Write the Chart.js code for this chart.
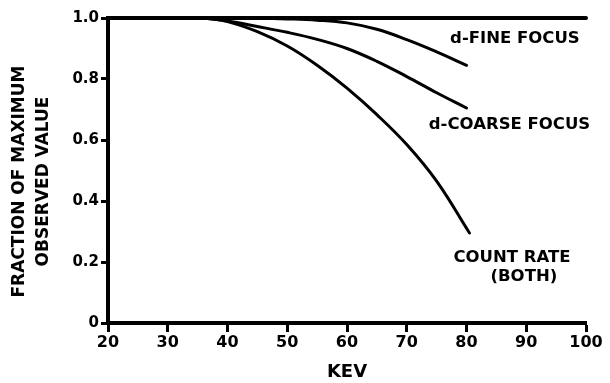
<!DOCTYPE html>
<html><head><meta charset="utf-8">
<script src="https://cdn.jsdelivr.net/npm/chart.js@4.4.1/dist/chart.umd.min.js"></script>
<style>html,body{margin:0;padding:0;background:#fff}#wrap{width:610px;height:383px}</style>
</head><body><div id="wrap"><canvas id="c"></canvas></div>
<script>
// keV values and fraction-of-maximum values
const refKev = [20, 100];
const refVal = [1.0, 1.0];
const fineKev = [36, 45, 50, 55, 60, 65, 70, 75, 80];
const fineVal = [1.0, 0.999, 0.997, 0.993, 0.984, 0.963, 0.929, 0.889, 0.845];
const coarseKev = [36, 40, 45, 50, 55, 60, 65, 70, 75, 80];
const coarseVal = [1.0, 0.99, 0.972, 0.953, 0.93, 0.9, 0.858, 0.808, 0.755, 0.705];
const countKev = [36, 40, 45, 50, 55, 60, 65, 70, 75, 80.5];
const countVal = [1.0, 0.988, 0.955, 0.908, 0.845, 0.77, 0.683, 0.585, 0.465, 0.295];
const xTicks = [20, 30, 40, 50, 60, 70, 80, 90, 100];
const yTicks = [0, 0.2, 0.4, 0.6, 0.8, 1.0];
const yTitle = ['FRACTION OF MAXIMUM', 'OBSERVED VALUE'];
const xTitle = 'KEV';
const labels = [
  {text: 'd-FINE FOCUS', kev: 88.1, val: 0.931},
  {text: 'd-COARSE FOCUS', kev: 87.2, val: 0.651},
  {text: 'COUNT RATE', kev: 87.6, val: 0.214},
  {text: '(BOTH)', kev: 89.6, val: 0.153}
];

const pts = (xs, ys) => xs.map((x, i) => ({x, y: ys[i]}));
const FONT = '"DejaVu Sans", sans-serif';

const labelPlugin = {
  id: 'curveLabels',
  afterDatasetsDraw(chart) {
    const {ctx, scales, chartArea} = chart;
    ctx.save();
    ctx.fillStyle = '#000';
    ctx.font = 'bold 16.5px ' + FONT;
    ctx.textAlign = 'center';
    ctx.textBaseline = 'middle';
    labels.forEach(l => {
      ctx.fillText(l.text, scales.x.getPixelForValue(l.kev), scales.y.getPixelForValue(l.val));
    });
    // y-axis title, two rotated lines
    ctx.font = 'bold 17px ' + FONT;
    const cy = (chartArea.top + chartArea.bottom) / 2 + 11;
    const xs = [19.5, 44];
    yTitle.forEach((t, i) => {
      ctx.save();
      ctx.translate(xs[i], cy);
      ctx.rotate(-Math.PI / 2);
      ctx.fillText(t, 0, 0);
      ctx.restore();
    });
    ctx.restore();
  }
};

const ds = (data, w) => ({
  data, borderColor: '#000', borderWidth: w, pointRadius: 0,
  tension: 0.4, fill: false, clip: 10, borderCapStyle: 'round'
});

new Chart(document.getElementById('c'), {
  type: 'line',
  data: {
    datasets: [
      ds(pts(refKev, refVal), 4),
      ds(pts(fineKev, fineVal), 3),
      ds(pts(coarseKev, coarseVal), 3),
      ds(pts(countKev, countVal), 3)
    ]
  },
  options: {
    responsive: true, maintainAspectRatio: false, animation: false,
    layout: {padding: {top: 18, right: 24, left: 0, bottom: 0}},
    plugins: {legend: {display: false}, tooltip: {enabled: false}},
    scales: {
      x: {
        type: 'linear', min: 20, max: 100,
        afterFit: s => { s.height = 60; },
        afterBuildTicks: s => { s.ticks = xTicks.map(v => ({value: v})); },
        border: {color: '#000', width: 4},
        grid: {drawOnChartArea: false, drawTicks: true, tickLength: 9, tickWidth: 3, tickColor: '#000'},
        ticks: {color: '#000', padding: 1, font: {family: FONT, size: 16, weight: 'bold'}},
        title: {display: true, text: xTitle, color: '#000', padding: {top: 3, bottom: 0}, font: {family: FONT, size: 18, weight: 'bold'}}
      },
      y: {
        min: 0, max: 1,
        afterFit: s => { s.width = 108; },
        afterBuildTicks: s => { s.ticks = yTicks.map(v => ({value: v})); },
        border: {color: '#000', width: 4},
        grid: {drawOnChartArea: false, drawTicks: true, tickLength: 7, tickWidth: 3, tickColor: '#000'},
        ticks: {color: '#000', padding: 2, font: {family: FONT, size: 15, weight: 'bold'},
          callback: v => v === 0 ? '0' : v.toFixed(1)},
        title: {display: false}
      }
    }
  },
  plugins: [labelPlugin]
});
</script></body></html>
